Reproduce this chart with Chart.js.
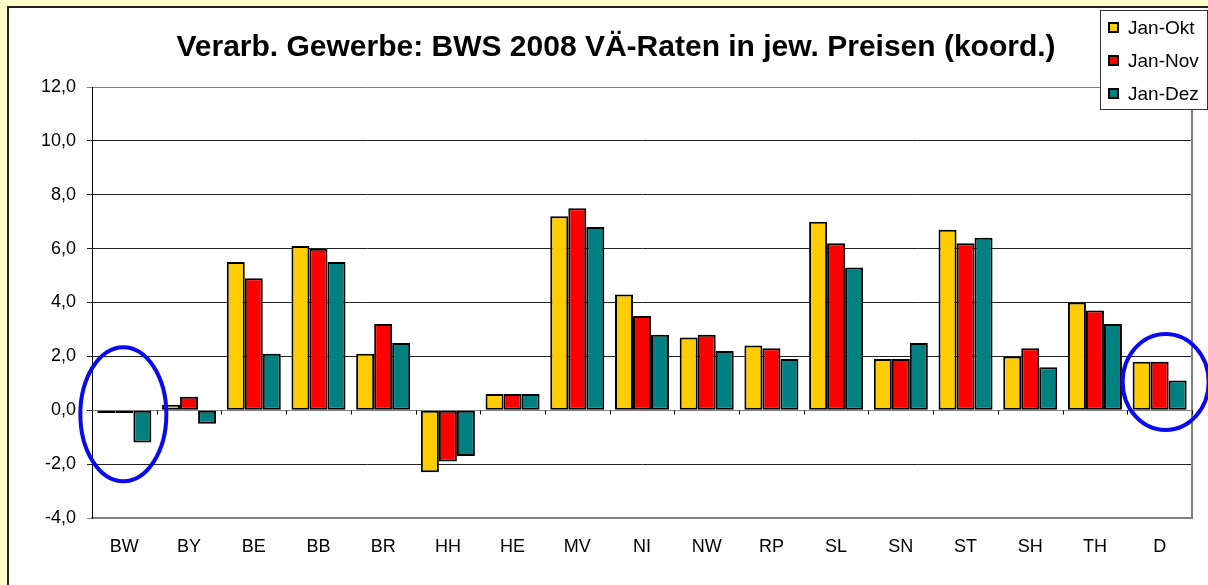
<!DOCTYPE html>
<html>
<head>
<meta charset="utf-8">
<script src="https://cdn.jsdelivr.net/npm/chart.js@4/dist/chart.umd.min.js"></script>
<style>
  body { margin: 0; background: #ffffcc; }
  #wrap { position: absolute; left: 0; top: 0; width: 1208px; height: 585px; }
</style>
</head>
<body>
<div id="wrap"><canvas id="bwsChart" width="1208" height="585"></canvas></div>
<script>
// Werte (VÄ-Raten in %)
const categories = ['BW', 'BY', 'BE', 'BB', 'BR', 'HH', 'HE', 'MV', 'NI', 'NW', 'RP', 'SL', 'SN', 'ST', 'SH', 'TH', 'D'];
const janOkt = [-0.1, 0.2, 5.5, 6.1, 2.1, -2.3, 0.6, 7.2, 4.3, 2.7, 2.4, 7.0, 1.9, 6.7, 2.0, 4.0, 1.8];
const janNov = [-0.1, 0.5, 4.9, 6.0, 3.2, -1.9, 0.6, 7.5, 3.5, 2.8, 2.3, 6.2, 1.9, 6.2, 2.3, 3.7, 1.8];
const janDez = [-1.2, -0.5, 2.1, 5.5, 2.5, -1.7, 0.6, 6.8, 2.8, 2.2, 1.9, 5.3, 2.5, 6.4, 1.6, 3.2, 1.1];
const seriesNames = ['Jan-Okt', 'Jan-Nov', 'Jan-Dez'];
const seriesColors = ['#ffcc00', '#ff0000', '#008080'];
const yTicks = [-4, -2, 0, 2, 4, 6, 8, 10, 12];
const titleText = 'Verarb. Gewerbe: BWS 2008 VÄ-Raten in jew. Preisen (koord.)';
// markierte Kategorien (blaue Ellipsen)
const marked = [{ cat: 'BW', value: -0.15, dx: -1, rx: 43, ry: 67 }, { cat: 'D', value: 1.05, dx: 6, rx: 43, ry: 48 }];

const FONT = "'Liberation Sans', Arial, sans-serif";

// Hintergrund, Rahmen, Null-Linie, Titel, Legende
const decorations = {
    id: 'decorations',
    beforeDraw(chart) {
        const ctx = chart.ctx;
        ctx.save();
        ctx.fillStyle = '#ffffcc';
        ctx.fillRect(0, 0, chart.width, chart.height);
        ctx.fillStyle = '#ffffff';
        ctx.fillRect(8, 7, chart.width, chart.height);
        ctx.strokeStyle = '#222';
        ctx.lineWidth = 2;
        ctx.strokeRect(8, 7, chart.width + 10, chart.height + 10);
        ctx.restore();
    },
    beforeDatasetsDraw(chart) {
        const ctx = chart.ctx;
        const area = chart.chartArea;
        const y0 = Math.round(chart.scales.y.getPixelForValue(0)) + 0.5;
        ctx.save();
        // rechter Rand der Zeichenfläche
        ctx.strokeStyle = '#808080';
        ctx.lineWidth = 2;
        ctx.beginPath();
        ctx.moveTo(area.right, area.top);
        ctx.lineTo(area.right, area.bottom);
        ctx.stroke();
        // Kategorienachse bei 0
        ctx.lineWidth = 1;
        ctx.strokeStyle = '#808080';
        ctx.beginPath();
        ctx.moveTo(area.left, y0);
        ctx.lineTo(area.right, y0);
        ctx.stroke();
        ctx.strokeStyle = '#000';
        const step = (area.right - area.left) / categories.length;
        for (let i = 0; i <= categories.length; i++) {
            const px = Math.round(area.left + i * step) + 0.5;
            ctx.beginPath();
            ctx.moveTo(px, y0);
            ctx.lineTo(px, y0 + 4);
            ctx.stroke();
        }
        ctx.restore();
    },
    afterDatasetsDraw(chart) {
        const ctx = chart.ctx;
        const x = chart.scales.x;
        const y = chart.scales.y;
        ctx.save();
        ctx.strokeStyle = '#0a0aee';
        ctx.lineWidth = 4;
        marked.forEach(m => {
            const cx = x.getPixelForValue(categories.indexOf(m.cat)) + m.dx;
            const cy = y.getPixelForValue(m.value);
            ctx.beginPath();
            ctx.ellipse(cx, cy, m.rx, m.ry, 0, 0, Math.PI * 2);
            ctx.stroke();
        });
        ctx.restore();
    },
    afterDraw(chart) {
        const ctx = chart.ctx;
        ctx.save();
        // Titel
        ctx.fillStyle = '#000';
        ctx.font = 'bold 30px ' + FONT;
        ctx.textAlign = 'center';
        ctx.textBaseline = 'middle';
        ctx.fillText(titleText, 616, 48);
        // Legende
        ctx.fillStyle = '#fff';
        ctx.fillRect(1100, 10, 107, 99);
        ctx.strokeStyle = '#333';
        ctx.lineWidth = 1;
        ctx.strokeRect(1100.5, 10.5, 107, 99);
        ctx.font = '19px ' + FONT;
        ctx.textAlign = 'left';
        seriesNames.forEach((name, i) => {
            const cy = 28 + i * 33;
            ctx.fillStyle = seriesColors[i];
            ctx.fillRect(1109, cy - 5, 9, 9);
            ctx.strokeStyle = '#000';
            ctx.lineWidth = 2;
            ctx.strokeRect(1109, cy - 5, 9, 9);
            ctx.fillStyle = '#000';
            ctx.fillText(name, 1128, cy + 1);
        });
        ctx.restore();
    }
};

const ctx = document.getElementById('bwsChart').getContext('2d');
const chart = new Chart(ctx, {
    type: 'bar',
    data: {
        labels: categories,
        datasets: [janOkt, janNov, janDez].map((vals, i) => ({
            label: seriesNames[i],
            data: vals,
            backgroundColor: seriesColors[i],
            borderColor: '#000',
            borderWidth: 2,
            borderSkipped: false,
            categoryPercentage: 0.835,
            barPercentage: 1.0
        }))
    },
    options: {
        responsive: false,
        animation: false,
        devicePixelRatio: 1,
        layout: { padding: { top: 87, right: 16, left: 0, bottom: 0 } },
        plugins: {
            legend: { display: false },
            title: { display: false },
            tooltip: { enabled: false }
        },
        scales: {
            x: {
                grid: { display: false, drawTicks: false, tickLength: 0 },
                border: { color: '#808080', width: 2 },
                ticks: { color: '#000', font: { family: FONT, size: 18 }, padding: 18, maxRotation: 0 },
                afterFit: s => { s.height = 67; }
            },
            y: {
                min: yTicks[0],
                max: yTicks[yTicks.length - 1],
                afterBuildTicks: s => { s.ticks = yTicks.map(v => ({ value: v })); },
                ticks: {
                    color: '#000',
                    font: { family: FONT, size: 18 },
                    padding: 11,
                    callback: v => v.toFixed(1).replace('.', ',')
                },
                grid: {
                    color: c => (c.tick && (c.tick.value === 12 || c.tick.value === -4)) ? '#808080' : '#222',
                    tickLength: 5,
                    lineWidth: 1
                },
                border: { color: '#000', width: 1 },
                afterFit: s => { s.width = 92; }
            }
        }
    },
    plugins: [decorations]
});
</script>
</body>
</html>
